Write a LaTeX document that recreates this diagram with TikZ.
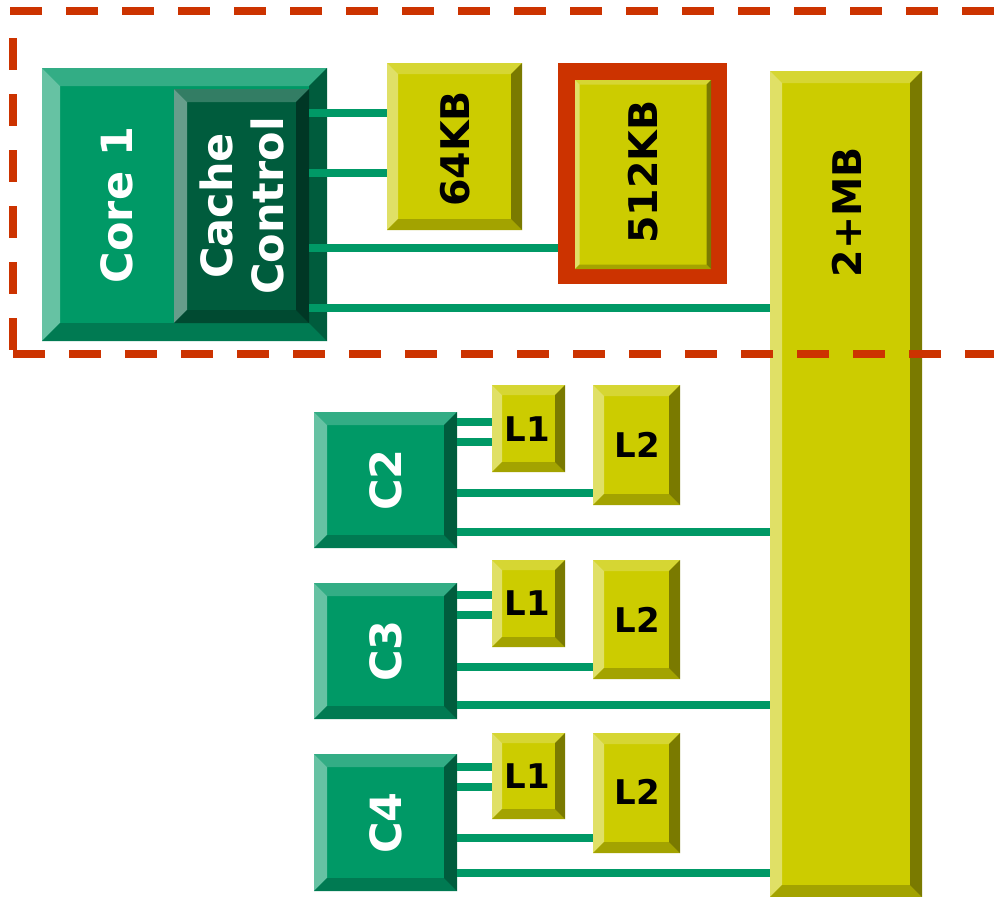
\documentclass[tikz,border=0pt]{standalone}
\usepackage{fontspec}
\setmainfont{DejaVu Sans}
\usetikzlibrary{fit}
\definecolor{gface}{HTML}{009966}
\definecolor{gtop}{HTML}{33AD85}
\definecolor{gleft}{HTML}{66C2A3}
\definecolor{gbot}{HTML}{007A52}
\definecolor{gright}{HTML}{005C3D}
\definecolor{dface}{HTML}{005C3D}
\definecolor{dtop}{HTML}{337D64}
\definecolor{dleft}{HTML}{669D8B}
\definecolor{dbot}{HTML}{004A31}
\definecolor{dright}{HTML}{003725}
\definecolor{yface}{HTML}{CCCC00}
\definecolor{ytop}{HTML}{D6D633}
\definecolor{yleft}{HTML}{E0E066}
\definecolor{ybot}{HTML}{A3A300}
\definecolor{yright}{HTML}{7A7A00}
\definecolor{linkgreen}{HTML}{009966}
\definecolor{redline}{HTML}{CC3300}
\tikzset{
  boxbase/.style={rectangle, inner sep=0pt, outer sep=0pt, draw=none},
  bev/.style 2 args={path picture={
    \fill[#2top] (path picture bounding box.north west) -- (path picture bounding box.north east)
      -- ([xshift=-#1pt,yshift=-#1pt]path picture bounding box.north east)
      -- ([xshift=#1pt,yshift=-#1pt]path picture bounding box.north west) -- cycle;
    \fill[#2left] (path picture bounding box.north west) -- (path picture bounding box.south west)
      -- ([xshift=#1pt,yshift=#1pt]path picture bounding box.south west)
      -- ([xshift=#1pt,yshift=-#1pt]path picture bounding box.north west) -- cycle;
    \fill[#2bot] (path picture bounding box.south west) -- (path picture bounding box.south east)
      -- ([xshift=-#1pt,yshift=#1pt]path picture bounding box.south east)
      -- ([xshift=#1pt,yshift=#1pt]path picture bounding box.south west) -- cycle;
    \fill[#2right] (path picture bounding box.north east) -- (path picture bounding box.south east)
      -- ([xshift=-#1pt,yshift=#1pt]path picture bounding box.south east)
      -- ([xshift=-#1pt,yshift=-#1pt]path picture bounding box.north east) -- cycle;
  }},
  link/.style={draw=linkgreen, line width=8pt, line cap=butt},
  redash/.style={draw=redline, line width=8pt, dash pattern=on 32pt off 24pt, line cap=butt},
  wlabel/.style={rotate=90, text=white, inner sep=0pt, align=center,
    font=\fontsize{43}{51}\selectfont\bfseries},
  ylabel/.style={rotate=90, text=black, inner sep=0pt,
    font=\fontsize{39.5}{47}\selectfont\bfseries},
  llabel/.style={text=black, inner sep=0pt,
    font=\fontsize{34}{40}\selectfont\bfseries},
}
\newcommand\bevbox[7]{\node[boxbase, fill=#2face, bev={#3}{#2}, fit={(#4,#5) (#6,#7)}] (#1) {};}
\begin{document}
\begin{tikzpicture}[x=1pt, y=-1pt]
\useasboundingbox (0,0) rectangle (994,897);
% core 1
\bevbox{core1}{g}{18}{42}{68}{327}{341}
\bevbox{cache}{d}{13}{174}{89}{309}{323}
\node[wlabel] (core1txt) at (117,205) {Core 1};
\node[wlabel] (cachetxt) at (242,206) {Cache\\Control};
% 64KB
\bevbox{kb64}{y}{11}{387}{63}{522}{230}
\node[ylabel] (kb64txt) at (455,149) {64KB};
% 512KB
\node[boxbase, fill=redline, fit={(558,63) (727,284)}] (frame512) {};
\bevbox{kb512}{y}{4.5}{575}{80}{711}{269}
\node[ylabel] (kb512txt) at (643,172) {512KB};
% 2+MB
\bevbox{mb2}{y}{12}{770}{71}{922}{897}
\node[ylabel] (mb2txt) at (847,212) {2+MB};
% C2
\bevbox{c2}{g}{13}{314}{412}{457}{548}
\node[wlabel] (c2txt) at (386,480) {C2};
\bevbox{c2a}{y}{10}{492}{385}{565}{472}
\node[llabel] (c2atxt) at (527.5,429.5) {L1};
\bevbox{c2b}{y}{11}{593}{385}{680}{505}
\node[llabel] (c2btxt) at (637,444.5) {L2};
% C3
\bevbox{c3}{g}{13}{314}{583}{457}{719}
\node[wlabel] (c3txt) at (386,651) {C3};
\bevbox{c3a}{y}{10}{492}{560}{565}{647}
\node[llabel] (c3atxt) at (527.5,603.5) {L1};
\bevbox{c3b}{y}{11}{593}{560}{680}{679}
\node[llabel] (c3btxt) at (637,619.5) {L2};
% C4
\bevbox{c4}{g}{13}{314}{754}{457}{891}
\node[wlabel] (c4txt) at (386,823) {C4};
\bevbox{c4a}{y}{10}{492}{733}{565}{819}
\node[llabel] (c4atxt) at (527.5,776) {L1};
\bevbox{c4b}{y}{11}{593}{733}{680}{853}
\node[llabel] (c4btxt) at (637,792) {L2};
% connectors core 1
\draw[link] (cache.east |- 0,113) -- (kb64.west |- 0,113);
\draw[link] (cache.east |- 0,173) -- (kb64.west |- 0,173);
\draw[link] (cache.east |- 0,248) -- (frame512.west |- 0,248);
\draw[link] (cache.east |- 0,308) -- (mb2.west |- 0,308);
% connectors C2
\draw[link] (c2.east |- 0,421.7) -- (c2a.west |- 0,421.7);
\draw[link] (c2.east |- 0,441.7) -- (c2a.west |- 0,441.7);
\draw[link] (c2.east |- 0,493.3) -- (c2b.west |- 0,493.3);
\draw[link] (c2.east |- 0,532.3) -- (mb2.west |- 0,532.3);
% connectors C3
\draw[link] (c3.east |- 0,595) -- (c3a.west |- 0,595);
\draw[link] (c3.east |- 0,615) -- (c3a.west |- 0,615);
\draw[link] (c3.east |- 0,666.7) -- (c3b.west |- 0,666.7);
\draw[link] (c3.east |- 0,705) -- (mb2.west |- 0,705);
% connectors C4
\draw[link] (c4.east |- 0,767.3) -- (c4a.west |- 0,767.3);
\draw[link] (c4.east |- 0,787.3) -- (c4a.west |- 0,787.3);
\draw[link] (c4.east |- 0,838.3) -- (c4b.west |- 0,838.3);
\draw[link] (c4.east |- 0,873.3) -- (mb2.west |- 0,873.3);
% dashed region
\coordinate (dtl) at (10,11);
\coordinate (dtr) at (1010,11);
\coordinate (dl1) at (13,38);
\coordinate (dl2) at (13,350);
\coordinate (dbl) at (13,354);
\coordinate (dbr) at (1010,354);
\draw[redash] (dtl) -- (dtr);
\draw[redash] (dl1) -- (dl2);
\draw[redash] (dbl) -- (dbr);
\end{tikzpicture}
\end{document}
